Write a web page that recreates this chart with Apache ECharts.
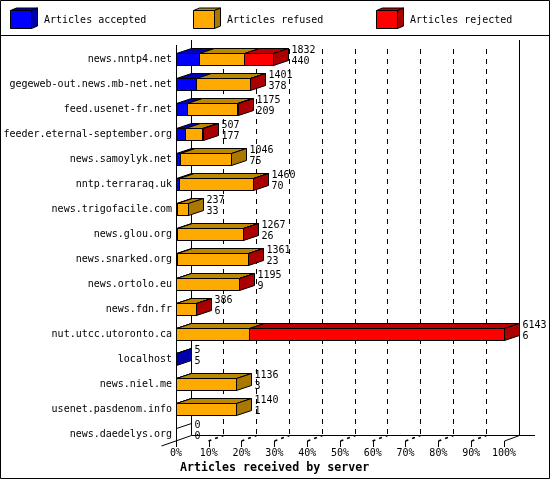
<!DOCTYPE html>
<html><head><meta charset="utf-8">
<style>html,body{margin:0;padding:0;background:#fff}#c{width:550px;height:480px}</style>
<script src="https://cdn.jsdelivr.net/npm/echarts@6/dist/echarts.min.js"></script>
</head><body><div id="c"></div>
<script>
const categories = ["news.nntp4.net","gegeweb-out.news.mb-net.net","feed.usenet-fr.net","feeder.eternal-september.org","news.samoylyk.net","nntp.terraraq.uk","news.trigofacile.com","news.glou.org","news.snarked.org","news.ortolo.eu","news.fdn.fr","nut.utcc.utoronto.ca","localhost","news.niel.me","usenet.pasdenom.info","news.daedelys.org"];
const totals   = [1832,1401,1175,507,1046,1460,237,1267,1361,1195,386,6143,5,1136,1140,0];
const accepted = [440,378,209,177,75,70,33,26,23,9,6,6,5,3,1,0];
const refused  = [843,1013,936,320,971,1385,204,1236,1333,1181,375,1374,0,1133,1139,0];
const rejected = [549,10,30,10,0,5,0,5,5,5,5,4763,0,0,0,0];
const tickValues = [0,10,20,30,40,50,60,70,80,90,100];
const seriesNames = ["Articles accepted","Articles refused","Articles rejected"];
const frontColors = ["#0000ff","#ffaa00","#ff0000"];
const topColors = ["#0000bb","#bb8800","#bb0000"];
const sideColors = ["#0000aa","#aa7700","#aa0000"];

const FONT = '"DejaVu Sans Mono", monospace';
const maxTotal = Math.max(...totals);
const pct = v => v / maxTotal * 100;
const DX = 15, DY = 5, HALF = 6;
const snap = v => Math.floor(v) + 0.5;
const line = {stroke:'#000', lineWidth:1};

function poly(points, fill){
  return {type:'polygon', shape:{points}, style:{fill, stroke:'#000', lineWidth:1}};
}
function segmentSeries(k){
  const values = [accepted, refused, rejected][k];
  const data = categories.map((_, i) => {
    const before = (k > 0 ? accepted[i] : 0) + (k > 1 ? refused[i] : 0);
    const isLast = values[i] > 0 && (k === 2 || (k === 1 ? rejected[i] === 0 : refused[i] + rejected[i] === 0));
    return [pct(before), pct(before + values[i]), i, isLast ? 1 : 0, values[i]];
  });
  return {
    type:'custom', name:seriesNames[k], silent:true, z:3 + k,
    encode:{x:[0,1], y:2}, data,
    renderItem(params, api){
      if (!api.value(4)) return null;
      const i = api.value(2);
      const cy = Math.floor(api.coord([0, i])[1]) + 0.5;
      const x0 = snap(api.coord([api.value(0), i])[0]);
      const x1 = snap(api.coord([api.value(1), i])[0]);
      const y0 = cy - HALF, y1 = cy + HALF;
      const children = [
        poly([[x0,y0],[x0+DX,y0-DY],[x1+DX,y0-DY],[x1,y0]], topColors[k]),
        {type:'rect', shape:{x:x0,y:y0,width:x1-x0,height:y1-y0}, style:{fill:frontColors[k], stroke:'#000', lineWidth:1}}
      ];
      if (api.value(3)) children.push(poly([[x1,y0],[x1+DX,y0-DY],[x1+DX,y1-DY],[x1,y1]], sideColors[k]));
      return {type:'group', children};
    }
  };
}
function cube(x0,x1,y0,y1,dx,dy,k){
  return [
    {type:'polygon', shape:{points:[[x0,y0],[x0+dx,y0-dy],[x1+dx,y0-dy],[x1,y0]]}, style:{fill:topColors[k],stroke:'#000',lineWidth:1}},
    {type:'polygon', shape:{points:[[x1,y0],[x1+dx,y0-dy],[x1+dx,y1-dy],[x1,y1]]}, style:{fill:sideColors[k],stroke:'#000',lineWidth:1}},
    {type:'rect', shape:{x:x0,y:y0,width:x1-x0,height:y1-y0}, style:{fill:frontColors[k],stroke:'#000',lineWidth:1}}
  ];
}
const legendX = [10.5,193.5,376.5];
const legendGraphic = [];
legendX.forEach((x,k)=>{
  legendGraphic.push(...cube(x,x+21,10.5,28.5,6,2.5,k));
  legendGraphic.push({type:'text', x:x+33.5, y:20.5, style:{text:seriesNames[k], font:'10px '+FONT, fill:'#000', textVerticalAlign:'middle'}});
});
legendGraphic.push({type:'rect', shape:{x:0.5,y:0.5,width:549,height:478}, style:{fill:'none',stroke:'#000',lineWidth:1}});
legendGraphic.push({type:'line', shape:{x1:0,y1:35.5,x2:550,y2:35.5}, style:line});

const chart = echarts.init(document.getElementById('c'), null, {renderer:'canvas'});
chart.setOption({
  animation:false,
  backgroundColor:'#fff',
  textStyle:{fontFamily:FONT},
  title:{text:'Articles received by server', left:180, top:462, padding:0,
    textStyle:{fontFamily:FONT, fontWeight:'bold', fontSize:11.65, color:'#000'}},
  grid:{left:176, right:46, top:47, bottom:33, containLabel:false},
  xAxis:{type:'value', min:0, max:100, interval:10, position:'bottom',
    axisLine:{show:false}, splitLine:{show:false},
    axisTick:{show:true, inside:true, length:6, lineStyle:{color:'#000',width:1}},
    axisLabel:{formatter:'{value}%', margin:1, color:'#000', fontFamily:FONT, fontSize:10, hideOverlap:false, showMinLabel:true, showMaxLabel:true}},
  yAxis:{type:'category', inverse:true, data:categories,
    axisLine:{show:false}, axisTick:{show:false}, splitLine:{show:false},
    axisLabel:{margin:4, color:'#000', fontFamily:FONT, fontSize:10, interval:0, padding:[2,0,0,0]}},
  graphic:legendGraphic,
  series:[
    {type:'custom', name:'grid', silent:true, z:1, encode:{x:0}, data:tickValues.map(v=>[v]),
      renderItem(params, api){
        const v = api.value(0), cs = params.coordSys;
        const fx = snap(api.coord([v,0])[0]);
        const bx = snap(api.coord([v,0])[0] + DX);
        const solid = v === 0 || v === 100;
        const floorY = 435.5;
        const children = [
          {type:'line', shape:{x1:bx,y1:solid?40:49,x2:bx,y2:floorY}, style:{stroke:'#000',lineWidth:1,lineDash:solid?null:[5,5]}}
        ];
        if (v === 0) {
          children.push({type:'line', shape:{x1:fx,y1:45,x2:fx,y2:441}, style:line});
          children.push({type:'line', shape:{x1:bx,y1:floorY,x2:cs.x+cs.width+31,y2:floorY}, style:line});
          children.push({type:'line', shape:{x1:fx-15,y1:446,x2:bx,y2:floorY}, style:line});
        } else if (v === 100) {
          children.push({type:'line', shape:{x1:fx,y1:441,x2:bx,y2:floorY}, style:line});
        } else {
          children.push({type:'line', shape:{x1:fx,y1:441,x2:bx,y2:floorY}, style:{stroke:'#000',lineWidth:1.6,lineDash:[3,4]}});
        }
        return {type:'group', children};
      }},
    segmentSeries(0), segmentSeries(1), segmentSeries(2),
    {type:'custom', name:'counts', silent:true, z:8, encode:{x:0,y:1},
      data:categories.map((_,i)=>[pct(totals[i]), i, totals[i], accepted[i]]),
      renderItem(params, api){
        const i = api.value(1);
        const p = api.coord([api.value(0), i]);
        const x = snap(p[0]) + DX + 3;
        const cy = Math.floor(p[1]) + 0.5;
        const children = [
          {type:'text', x, y:cy-9, style:{text:String(api.value(2)), font:'10px '+FONT, fill:'#000', textVerticalAlign:'middle'}},
          {type:'text', x, y:cy+2, style:{text:String(api.value(3)), font:'10px '+FONT, fill:'#000', textVerticalAlign:'middle'}}
        ];
        if (!api.value(2)) {
          const xz = snap(p[0]);
          children.unshift({type:'polyline', shape:{points:[[xz,cy-HALF],[xz+DX,cy-HALF-DY]]}, style:{fill:'none',stroke:'#000',lineWidth:1}});
        }
        return {type:'group', children};
      }}
  ]
});
</script></body></html>
